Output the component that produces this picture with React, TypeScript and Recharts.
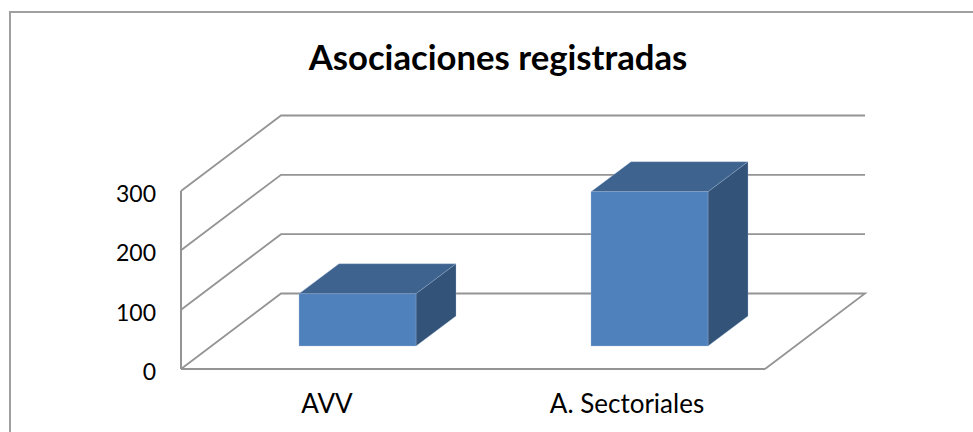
import React from "react";
import { BarChart, Bar, XAxis, YAxis, ReferenceLine } from "recharts";

const categories = ["AVV", "A. Sectoriales"];
const registradas = [88, 260];
const yTicks = [0, 100, 200, 300];
const chartTitle = "Asociaciones registradas";

const data = categories.map((name, i) => ({ name, registradas: registradas[i] }));

const FONT = "Lato, Carlito, sans-serif";
const GRID = "#949494";
const WALL_DX = 100;
const WALL_DY = -75.5;
const BAR_DX = 40;
const BAR_DY = -30;
const BAR_SHIFT_X = 30;
const BAR_SHIFT_Y = -23;

const WallLine = (value: number) => (props: any) => {
  const { x1, x2, y1 } = props;
  const d =
    `M${x1},${y1} L${x1 + WALL_DX},${y1 + WALL_DY} L${x2 + WALL_DX},${y1 + WALL_DY}` +
    (value === 0 ? ` L${x2},${y1}` : "");
  return <path d={d} fill="none" stroke={GRID} strokeWidth={1.8} />;
};

const Bar3D = (props: any) => {
  const x = props.x + BAR_SHIFT_X;
  const y = props.y + BAR_SHIFT_Y;
  const w = props.width;
  const h = props.height;
  const edge = { stroke: "#a9c1de", strokeWidth: 0.6, strokeOpacity: 0.5 };
  return (
    <g>
      <path
        d={`M${x},${y} L${x + BAR_DX},${y + BAR_DY} L${x + w + BAR_DX},${y + BAR_DY} L${x + w},${y} Z`}
        fill="#3e638f"
        {...edge}
      />
      <path
        d={`M${x + w},${y} L${x + w + BAR_DX},${y + BAR_DY} L${x + w + BAR_DX},${y + h + BAR_DY} L${x + w},${y + h} Z`}
        fill="#335379"
        {...edge}
      />
      <rect x={x} y={y} width={w} height={h} fill="#4f81bd" {...edge} />
    </g>
  );
};

const XTick = (props: any) => {
  const { x, y, payload, index } = props;
  return (
    <text x={x + (index === 1 ? 8 : 0)} y={y + 36} textAnchor="middle" fontFamily={FONT} fontSize={26} fill="#000">
      {payload.value}
    </text>
  );
};

const YTick = (props: any) => {
  const { x, y, payload } = props;
  return (
    <text x={x - 17} y={y + 11} textAnchor="end" fontFamily={FONT} fontSize={23} fill="#000">
      {payload.value}
    </text>
  );
};

export default function App() {
  return (
    <div style={{ position: "absolute", left: 0, top: 0, width: 973, height: 432, overflow: "hidden", background: "#fff" }}>
      <div
        style={{
          position: "absolute",
          left: 9,
          top: 11,
          width: 990,
          height: 440,
          border: "2px solid #a0a0a0",
          boxSizing: "border-box",
        }}
      />
      <div
        style={{
          position: "absolute",
          left: 0,
          width: 996,
          top: 37,
          textAlign: "center",
          fontFamily: FONT,
          fontWeight: 700,
          fontSize: 34.7,
          lineHeight: "40px",
          color: "#000",
        }}
      >
        {chartTitle}
      </div>
      <div style={{ position: "absolute", left: 0, top: 0 }}>
        <BarChart
          width={973}
          height={432}
          data={data}
          margin={{ left: 121, right: 208, top: 191, bottom: 23 }}
          barSize={117}
          style={{ overflow: "visible" }}
        >
          {yTicks.map((v) => (
            <ReferenceLine key={v} y={v} shape={WallLine(v)} ifOverflow="visible" zIndex={100} />
          ))}
          <XAxis
            dataKey="name"
            height={40}
            tickLine={false}
            axisLine={{ stroke: GRID, strokeWidth: 2 }}
            tick={<XTick />}
            interval={0}
          />
          <YAxis
            width={60}
            domain={[0, 300]}
            ticks={yTicks}
            tickLine={false}
            axisLine={{ stroke: GRID, strokeWidth: 2 }}
            tick={<YTick />}
          />
          <Bar dataKey="registradas" shape={Bar3D} isAnimationActive={false} zIndex={600} />
        </BarChart>
      </div>
    </div>
  );
}
